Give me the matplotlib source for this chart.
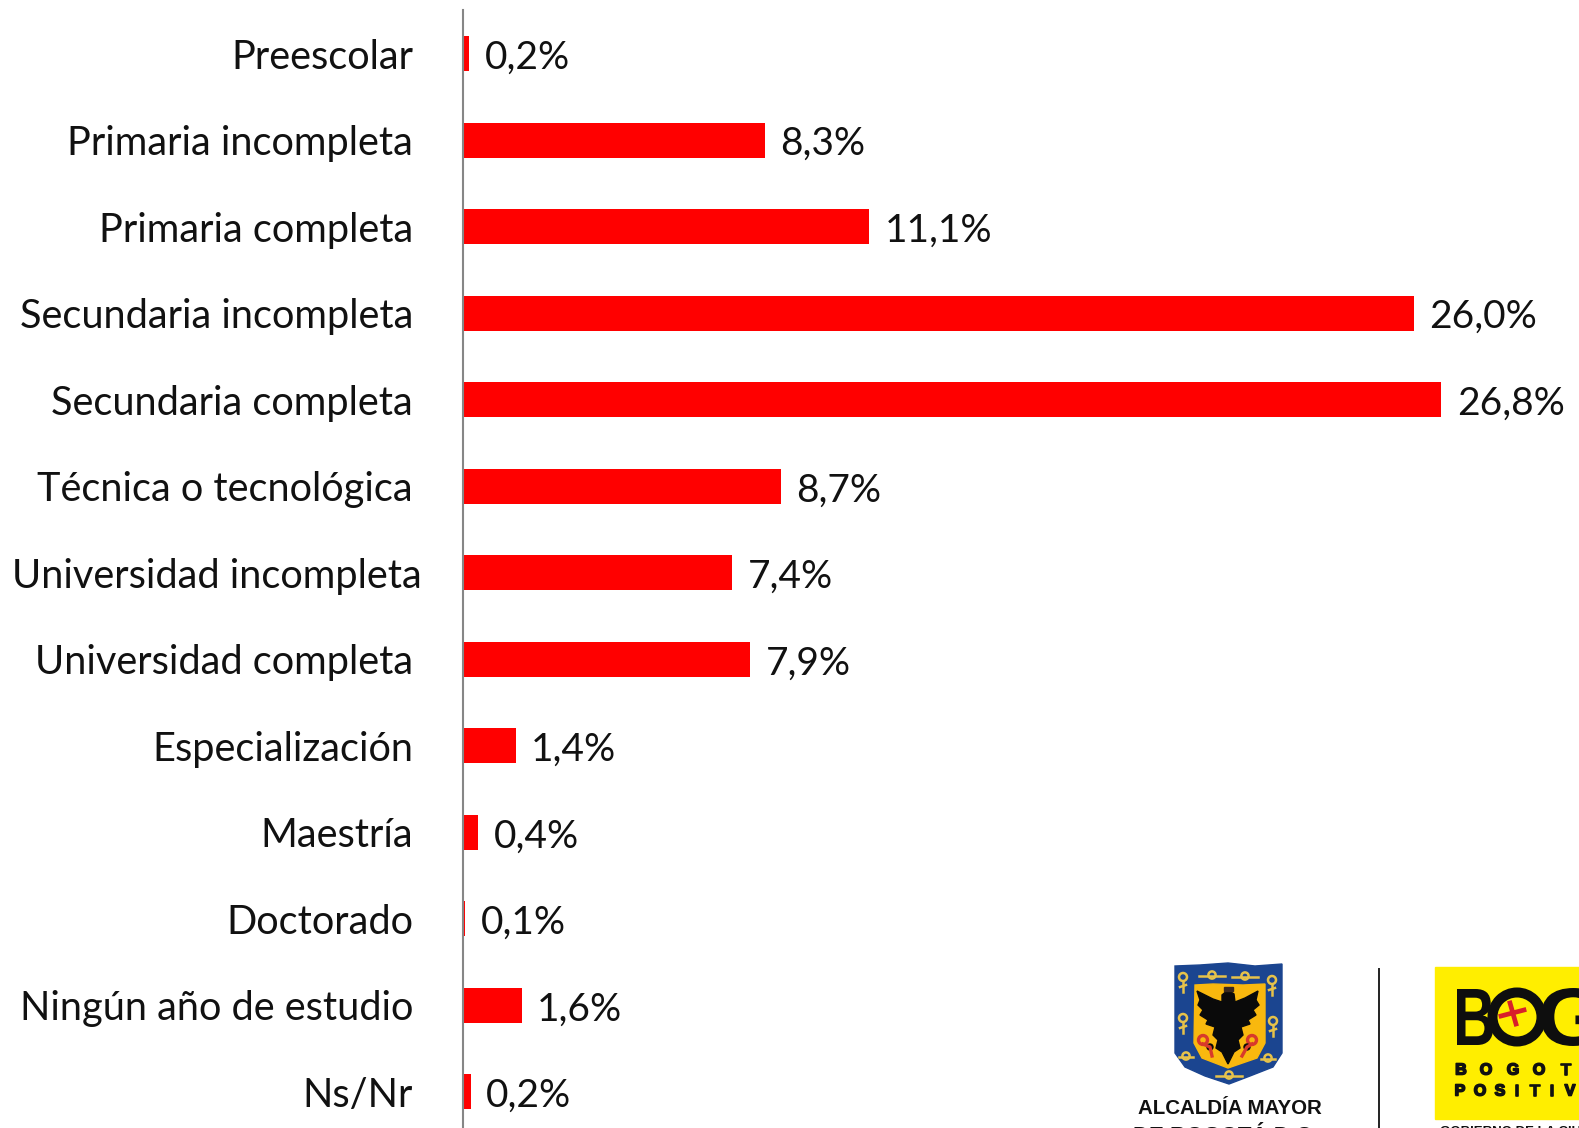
import matplotlib
matplotlib.use('Agg')
import matplotlib.pyplot as plt
import matplotlib.patheffects as pe
from matplotlib.patches import Polygon, Rectangle, Circle, PathPatch
from matplotlib.textpath import TextPath
from matplotlib.font_manager import FontProperties
from matplotlib.transforms import Affine2D

plt.rcParams['font.family'] = ['Lato', 'DejaVu Sans']

categorias = ['Preescolar', 'Primaria incompleta', 'Primaria completa', 'Secundaria incompleta',
              'Secundaria completa', 'Técnica o tecnológica', 'Universidad incompleta',
              'Universidad completa', 'Especialización', 'Maestría', 'Doctorado',
              'Ningún año de estudio', 'Ns/Nr']
valores = [0.17, 8.26, 11.1, 26.0, 26.74, 8.68, 7.36, 7.85, 1.44, 0.42, 0.06, 1.6, 0.21]
etiquetas = ['0,2%', '8,3%', '11,1%', '26,0%', '26,8%', '8,7%', '7,4%', '7,9%', '1,4%', '0,4%',
             '0,1%', '1,6%', '0,2%']

W, H = 1579, 1128
fig = plt.figure(figsize=(W / 100, H / 100), dpi=100, facecolor='white')

# ejes del grafico, el eje vertical queda en x=463
ax = fig.add_axes([463 / W, 0, (W - 463) / W, (H - 10) / H])
ax.barh(range(len(valores)), valores, height=0.405, color='#FF0000')
ax.set_xlim(0, 30.5)
ax.set_ylim(12.42, -0.503)
ax.set_xticks([])
ax.set_yticks(range(len(categorias)))
ax.set_yticklabels(categorias, fontsize=28.6, color='#111111')
ax.tick_params(axis='y', length=0, pad=36)
for s in ['top', 'right', 'bottom']:
    ax.spines[s].set_visible(False)
ax.spines['left'].set_color('#868686')
ax.spines['left'].set_linewidth(1.5)
ax.patch.set_alpha(0)

# esta etiqueta sobresale en el original
for t in ax.get_yticklabels():
    if t.get_text() == 'Universidad incompleta':
        t.set_x(0.008)

for i in range(len(valores)):
    ax.annotate(etiquetas[i], (valores[i], i), xytext=(11, -3), textcoords='offset points',
                va='center', ha='left', fontsize=28, color='#111111', annotation_clip=False)

# logos, en pixeles
lg = fig.add_axes([0, 0, 1, 1], zorder=5)
lg.set_xlim(0, W)
lg.set_ylim(H, 0)
lg.axis('off')
lg.patch.set_alpha(0)

# escudo
oro = '#E6C24A'
lg.add_patch(Polygon([(1175, 966), (1200, 965), (1228, 963), (1255, 966), (1282, 964), (1282, 1053),
                      (1273, 1067), (1250, 1076), (1229, 1084), (1205, 1076), (1185, 1067),
                      (1175, 1053)], color='#1B4590'))
lg.add_patch(Polygon([(1195, 985), (1213, 984), (1243, 985), (1265, 984), (1265, 1043), (1257, 1058),
                      (1228, 1068), (1202, 1058), (1194, 1043)], color='#F9B80E'))
lg.add_patch(Polygon([(1222, 995), (1228, 990), (1234, 994), (1235, 1002), (1245, 998), (1258, 991),
                      (1256, 1000), (1259, 1005), (1253, 1010), (1256, 1015), (1248, 1020), (1250, 1024),
                      (1241, 1027), (1243, 1035), (1238, 1040), (1240, 1048), (1234, 1052), (1228, 1064),
                      (1222, 1052), (1216, 1048), (1218, 1040), (1213, 1035), (1215, 1027), (1206, 1024),
                      (1208, 1020), (1200, 1015), (1203, 1010), (1198, 1005), (1200, 1000), (1197, 991),
                      (1213, 999), (1222, 1002)], color='#0A0A0A'))
lg.add_patch(Rectangle((1224, 987), 9, 4, color='#3A2A20'))
for sx, bx, px in [(1203, 1210, 1212), (1252, 1247, 1242)]:
    lg.add_patch(Circle((sx, 1040), 4.5, fill=False, ec='#D8392B', lw=2.4))
    lg.plot([sx, bx, px], [1044, 1047, 1056], color='#D8392B', lw=2.4)
    lg.add_patch(Circle((bx, 1047), 3, color='#0A0A0A'))
for x, y in [(1183, 977), (1183, 1018), (1272, 980), (1273, 1021)]:
    lg.add_patch(Circle((x, y), 4, fill=False, ec=oro, lw=1.8))
    lg.plot([x, x], [y + 4, y + 15], color=oro, lw=1.8)
    lg.plot([x - 3, x + 3], [y + 10, y + 8], color=oro, lw=1.8)
for x, y, d in [(1212, 975, 13), (1245, 976, 13), (1229, 1075, 13), (1186, 1056, 7), (1268, 1058, 7)]:
    lg.add_patch(Circle((x, y), 3.6, fill=False, ec=oro, lw=1.8))
    lg.plot([x - d, x + d], [y + 1, y + 1], color=oro, lw=1.8)

lg.text(1230, 1108, 'ALCALDÍA MAYOR', ha='center', va='center', fontsize=14.8, fontweight='bold',
        family='Liberation Sans', color='#111111')
lg.text(1226, 1137, 'DE BOGOTÁ D.C.', ha='center', va='center', fontsize=16, fontweight='bold',
        family='Liberation Sans', color='#111111', clip_on=True)
lg.plot([1379, 1379], [969, 1128], color='#222222', lw=1.4)

# recuadro amarillo
lg.add_patch(Rectangle((1435, 967), 144, 152, color='#FFEE00'))


def letra(c, x0, x1, y0, y1):
    # letra estirada a su caja en pixeles
    tp = TextPath((0, 0), c, size=100, prop=FontProperties(family='Liberation Sans', weight='bold'))
    e = tp.get_extents()
    tr = Affine2D().translate(-e.x0, -e.y0).scale((x1 - x0) / e.width, -(y1 - y0) / e.height).translate(x0, y1)
    lg.add_patch(PathPatch(tp, transform=tr + lg.transData, fc='#0E0E0E', ec='none', clip_on=True))


letra('B', 1457, 1493, 989, 1045)
lg.add_patch(Circle((1517, 1017), 24.5, fill=False, ec='#0E0E0E', lw=7.2))
letra('G', 1541, 1603, 988, 1046)
lg.plot([1501, 1524], [1016, 1010], color='#D8202A', lw=3.4)
lg.plot([1510, 1516], [1003, 1024], color='#D8202A', lw=3.4)
grueso = [pe.withStroke(linewidth=1.2, foreground='#111111')]
for x, c in zip([1461, 1486, 1513, 1539, 1566], 'BOGOT'):
    lg.text(x, 1070, c, ha='center', va='center', fontsize=11.5, fontweight='bold', family='Liberation Sans',
            color='#111111', path_effects=grueso)
for x, c in zip([1460, 1480, 1500, 1517, 1535, 1552, 1570], 'POSITIV'):
    lg.text(x, 1091, c, ha='center', va='center', fontsize=11.5, fontweight='bold', family='Liberation Sans',
            color='#111111', path_effects=grueso)
lg.text(1440, 1132, 'GOBIERNO DE LA CIUDAD', ha='left', va='center', fontsize=9.5, fontweight='bold',
        family='Liberation Sans', color='#111111', clip_on=True)

fig.savefig('out.png', dpi=100)
